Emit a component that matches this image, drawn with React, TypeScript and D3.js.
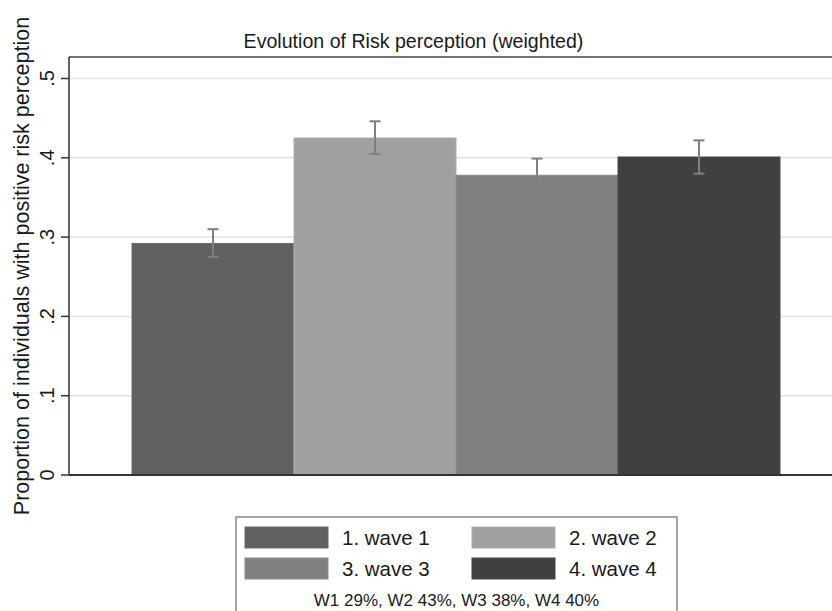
import React from "react";
import * as d3 from "d3";

const waves = ["1. wave 1", "2. wave 2", "3. wave 3", "4. wave 4"];
const values = [0.292, 0.425, 0.378, 0.401];
const ciLow = [0.275, 0.405, 0.358, 0.38];
const ciHigh = [0.31, 0.446, 0.399, 0.422];
const colors = ["#606060", "#a0a0a0", "#808080", "#404040"];
const yTicks = [0, 0.1, 0.2, 0.3, 0.4, 0.5];
const yTickLabels = ["0", ".1", ".2", ".3", ".4", ".5"];
const title = "Evolution of Risk perception (weighted)";
const yTitle = "Proportion of individuals with positive risk perception";
const note = "W1 29%, W2 43%, W3 38%, W4 40%";

const W = 832;
const H = 611;
const FONT = "'Liberation Sans', Arial, Helvetica, sans-serif";

export default function App() {
  const axisX = 69;
  const plotTop = 57;
  const plotRight = W;
  const x = d3.scaleBand<string>().domain(waves).range([132, 780]).padding(0);
  const y = d3.scaleLinear().domain([0, 0.5]).range([475, 78.5]);
  const capW = 11;

  const legendX = 236;
  const legendY = 517;
  const legendW = 441;
  const swW = 83;
  const swH = 21;
  const colX = [245, 472];
  const rowY = [527, 558];

  return (
    <svg
      width={W}
      height={H}
      style={{ position: "absolute", left: 0, top: 0, background: "#fff" }}
      fontFamily={FONT}
    >
      <rect x={0} y={0} width={W} height={H} fill="#fff" />
      {/* title */}
      <text x={413.5} y={48} textAnchor="middle" fontSize={19.6} fill="#1a1a1a">
        {title}
      </text>
      {/* gridlines */}
      {yTicks.slice(1).map((t) => (
        <line
          key={"g" + t}
          x1={axisX}
          x2={plotRight}
          y1={y(t)}
          y2={y(t)}
          stroke="#e2e2e2"
          strokeWidth={1.5}
        />
      ))}
      {/* top border */}
      <line x1={axisX} x2={plotRight} y1={plotTop} y2={plotTop} stroke="#444" strokeWidth={1.5} />
      {/* bars */}
      {waves.map((w, i) => (
        <rect
          key={w}
          x={x(w)}
          y={y(values[i])}
          width={x.bandwidth()}
          height={y(0) - y(values[i])}
          fill={colors[i]}
          stroke={d3.color(colors[i])!.brighter(0.25).formatHex()}
          strokeWidth={1}
        />
      ))}
      {/* error bars */}
      {waves.map((w, i) => {
        const cx = (x(w) as number) + x.bandwidth() / 2;
        return (
          <g key={"e" + w} stroke="#7f7f7f" strokeWidth={2}>
            <line x1={cx} x2={cx} y1={y(ciLow[i])} y2={y(ciHigh[i])} />
            <line x1={cx - capW / 2} x2={cx + capW / 2} y1={y(ciLow[i])} y2={y(ciLow[i])} />
            <line x1={cx - capW / 2} x2={cx + capW / 2} y1={y(ciHigh[i])} y2={y(ciHigh[i])} />
          </g>
        );
      })}
      {/* axes */}
      <line x1={axisX} x2={axisX} y1={plotTop} y2={y(0)} stroke="#333" strokeWidth={1.5} />
      <line x1={axisX} x2={plotRight} y1={y(0)} y2={y(0)} stroke="#333" strokeWidth={1.8} />
      {yTicks.map((t, i) => (
        <g key={"t" + t}>
          <line x1={axisX - 8} x2={axisX} y1={y(t)} y2={y(t)} stroke="#333" strokeWidth={1.5} />
          <text
            transform={`translate(54,${y(t)}) rotate(-90)`}
            textAnchor="middle"
            fontSize={20}
            fill="#1a1a1a"
          >
            {yTickLabels[i]}
          </text>
        </g>
      ))}
      {/* y title */}
      <text
        transform={`translate(29,266) rotate(-90)`}
        textAnchor="middle"
        fontSize={21.5}
        fill="#1a1a1a"
      >
        {yTitle}
      </text>
      {/* legend */}
      <rect
        x={legendX}
        y={legendY}
        width={legendW}
        height={H - legendY + 10}
        fill="#fff"
        stroke="#8a8a8a"
        strokeWidth={1.5}
      />
      {waves.map((w, i) => {
        const cx = colX[i % 2];
        const ry = rowY[Math.floor(i / 2)];
        return (
          <g key={"l" + w}>
            <rect x={cx} y={ry} width={swW} height={swH} fill={colors[i]} stroke={d3.color(colors[i])!.brighter(0.25).formatHex()} strokeWidth={1} />
            <text x={cx + swW + 14} y={ry + swH / 2 + 7} fontSize={20.5} fill="#1a1a1a">
              {w}
            </text>
          </g>
        );
      })}
      <text x={(legendX * 2 + legendW) / 2} y={606} textAnchor="middle" fontSize={17} fill="#1a1a1a">
        {note}
      </text>
    </svg>
  );
}
